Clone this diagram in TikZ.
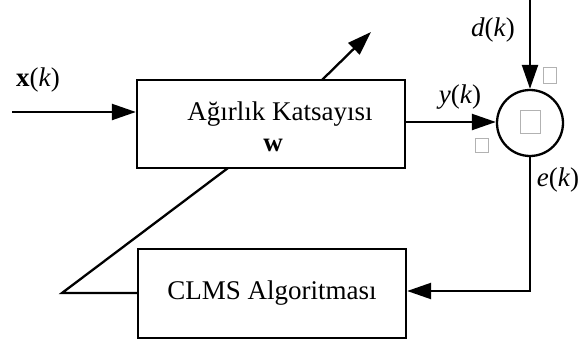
\documentclass[tikz,border=0pt]{standalone}
\usepackage{fontspec}
\setmainfont{Liberation Serif}
\usetikzlibrary{arrows.meta}
\begin{document}
\begin{tikzpicture}[x=1pt,y=-1pt,
 line width=2.3pt,
 blk/.style={draw, line width=2.3pt, fill=white, inner sep=0pt},
 arr/.style={-{Triangle[length=24pt,width=16pt]}},
 lbl/.style={font=\fontsize{27}{30}\selectfont, inner sep=0pt},
 tofu/.style={draw=gray!60, line width=0.9pt, inner sep=0pt}]
\useasboundingbox (0,0) rectangle (582,340);
% blocks
\node[blk, minimum width=268pt, minimum height=88pt] (w) at (271,124) {};
\node[lbl] (wt1) at (280,114) {Ağırlık Katsayısı};
\node[lbl] (wt2) at (273,145) {\textbf{w}};
\node[blk, minimum width=268pt, minimum height=89pt, lbl] (clms) at (272,293.5) {CLMS Algoritması};
\node[draw, circle, line width=2.3pt, minimum size=66pt, inner sep=0pt] (sum) at (530,123) {};
% tofu boxes
\node[tofu, minimum width=20pt, minimum height=23pt] (t0) at (530.5,121.5) {};
\node[tofu, minimum width=13pt, minimum height=16pt] (t1) at (550,75) {};
\node[tofu, minimum width=13pt, minimum height=14pt] (t2) at (481.5,145) {};
% coordinates
\coordinate (xin) at (12,112);
\coordinate (din) at (530,0);
\coordinate (ecorner) at (530,291);
\coordinate (fbc) at (62,293);
\coordinate (fbb) at (228,168);
\coordinate (ua) at (322,80);
\coordinate (ub) at (371,32);
% connectors
\draw[arr] (xin) -- (xin -| w.west);
\draw[arr] (din) -- (sum.north);
\draw[arr] (w.east |- 0,122) -- (sum.west |- 0,122);
\draw[arr] (sum.south) -- (ecorner) -- (clms.east |- ecorner);
\draw (clms.west |- fbc) -- (fbc) -- (fbb);
\draw[arr] (ua) -- (ub);
% labels
\node[lbl] (lx) at (38,80) {\textbf{x}(\textit{k})};
\node[lbl] (ld) at (493,30) {\textit{d}(\textit{k})};
\node[lbl] (ly) at (460,97) {\textit{y}(\textit{k})};
\node[lbl] (le) at (558,180) {\textit{e}(\textit{k})};
\end{tikzpicture}
\end{document}
